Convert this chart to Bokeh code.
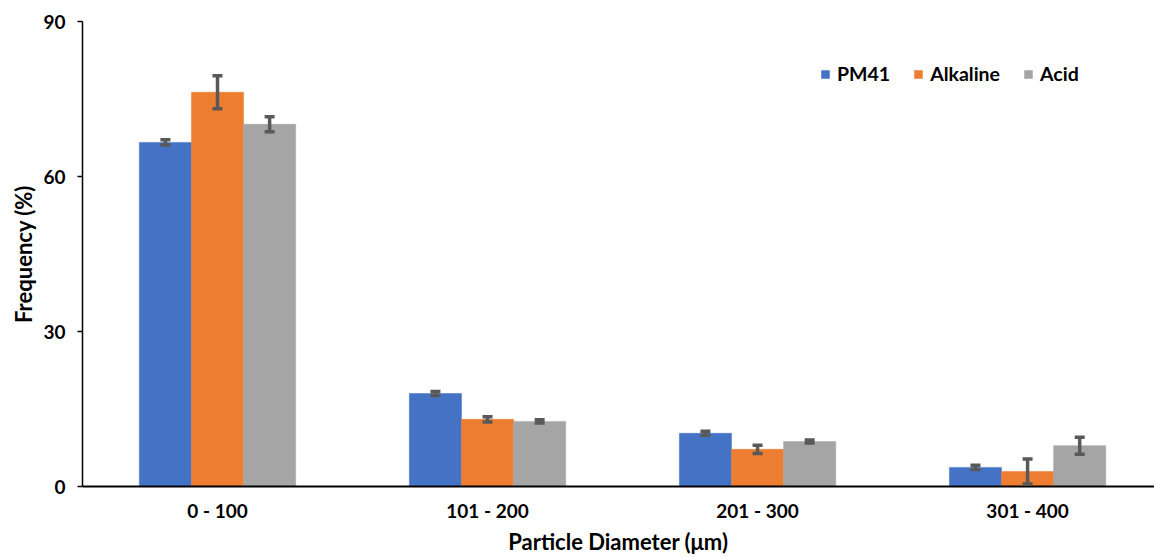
from bokeh.plotting import figure
from bokeh.models import (ColumnDataSource, Range1d, FixedTicker, Legend, LegendItem,
                          Whisker, TeeHead)
from bokeh.embed import file_html
from bokeh.resources import INLINE

# Particle size distribution, mean frequency (%) with error
categories = ["0 - 100", "101 - 200", "201 - 300", "301 - 400"]
series_names = ["PM41", "Alkaline", "Acid"]
pm41 = [66.6, 18.0, 10.3, 3.7]
pm41_err = [0.5, 0.4, 0.4, 0.4]
alkaline = [76.3, 13.0, 7.2, 2.9]
alkaline_err = [3.2, 0.5, 0.8, 2.4]
acid = [70.1, 12.6, 8.7, 7.9]
acid_err = [1.45, 0.3, 0.3, 1.65]
y_ticks = [0, 30, 60, 90]

colors = ["#4472C4", "#ED7D31", "#A5A5A5"]
err_color = "#595959"
FONT = "Lato"

bar_w = 0.193
offsets = [-bar_w, 0.0, bar_w]

p = figure(width=1154, height=557, output_backend="svg", toolbar_location=None,
           x_range=Range1d(-0.5, 3.47), y_range=Range1d(0, 90),
           min_border_left=82, min_border_right=0, min_border_top=21,
           min_border_bottom=71)
p.outline_line_color = None
p.xgrid.grid_line_color = None
p.ygrid.grid_line_color = None
p.background_fill_color = "white"
p.border_fill_color = "white"

items = []
for name, vals, errs, off, col in zip(series_names, [pm41, alkaline, acid],
                                      [pm41_err, alkaline_err, acid_err], offsets, colors):
    xs = [i + off for i in range(len(categories))]
    src = ColumnDataSource(dict(x=xs, top=vals,
                                upper=[v + e for v, e in zip(vals, errs)],
                                lower=[v - e for v, e in zip(vals, errs)]))
    r = p.vbar(x="x", top="top", width=bar_w, source=src, fill_color=col,
               line_color=col, line_width=0.5)
    items.append(LegendItem(label=name, renderers=[r]))
    w = Whisker(base="x", upper="upper", lower="lower", source=src, level="overlay",
                line_color=err_color, line_width=3.5,
                upper_head=TeeHead(size=10, line_color=err_color, line_width=3.5),
                lower_head=TeeHead(size=10, line_color=err_color, line_width=3.5))
    p.add_layout(w)

# axes
p.xaxis.ticker = FixedTicker(ticks=list(range(len(categories))))
p.xaxis.major_label_overrides = {i: c for i, c in enumerate(categories)}
p.xaxis.major_tick_line_color = None
p.xaxis.minor_tick_line_color = None
p.xaxis.axis_line_color = "black"
p.xaxis.axis_line_width = 2
p.xaxis.major_label_standoff = 6
p.xaxis.axis_label = "Particle Diameter (\u03bcm)"
p.xaxis.axis_label_standoff = 3

p.yaxis.ticker = FixedTicker(ticks=y_ticks)
p.yaxis.minor_tick_line_color = None
p.yaxis.major_tick_in = 0
p.yaxis.major_tick_out = 5
p.yaxis.major_tick_line_color = "black"
p.yaxis.major_tick_line_width = 1.5
p.yaxis.axis_line_color = "black"
p.yaxis.axis_line_width = 1.5
p.yaxis.major_label_standoff = 12
p.yaxis.axis_label = "Frequency (%)"
p.yaxis.axis_label_standoff = 3

for ax in (p.xaxis[0], p.yaxis[0]):
    ax.major_label_text_font = FONT
    ax.major_label_text_font_style = "bold"
    ax.major_label_text_font_size = "19px"
    ax.major_label_text_color = "black"
    ax.axis_label_text_font = FONT
    ax.axis_label_text_font_style = "bold"
    ax.axis_label_text_font_size = "22px"
    ax.axis_label_text_color = "black"

legend = Legend(items=items, orientation="horizontal", location=(738, 401),
                border_line_color=None, background_fill_alpha=0,
                glyph_width=10, glyph_height=10, label_standoff=7, spacing=23,
                label_text_font=FONT, label_text_font_style="bold",
                label_text_font_size="19.5px", label_text_color="black",
                padding=0, margin=0)
p.add_layout(legend)

open("out.html", "w").write(file_html(p, INLINE))
